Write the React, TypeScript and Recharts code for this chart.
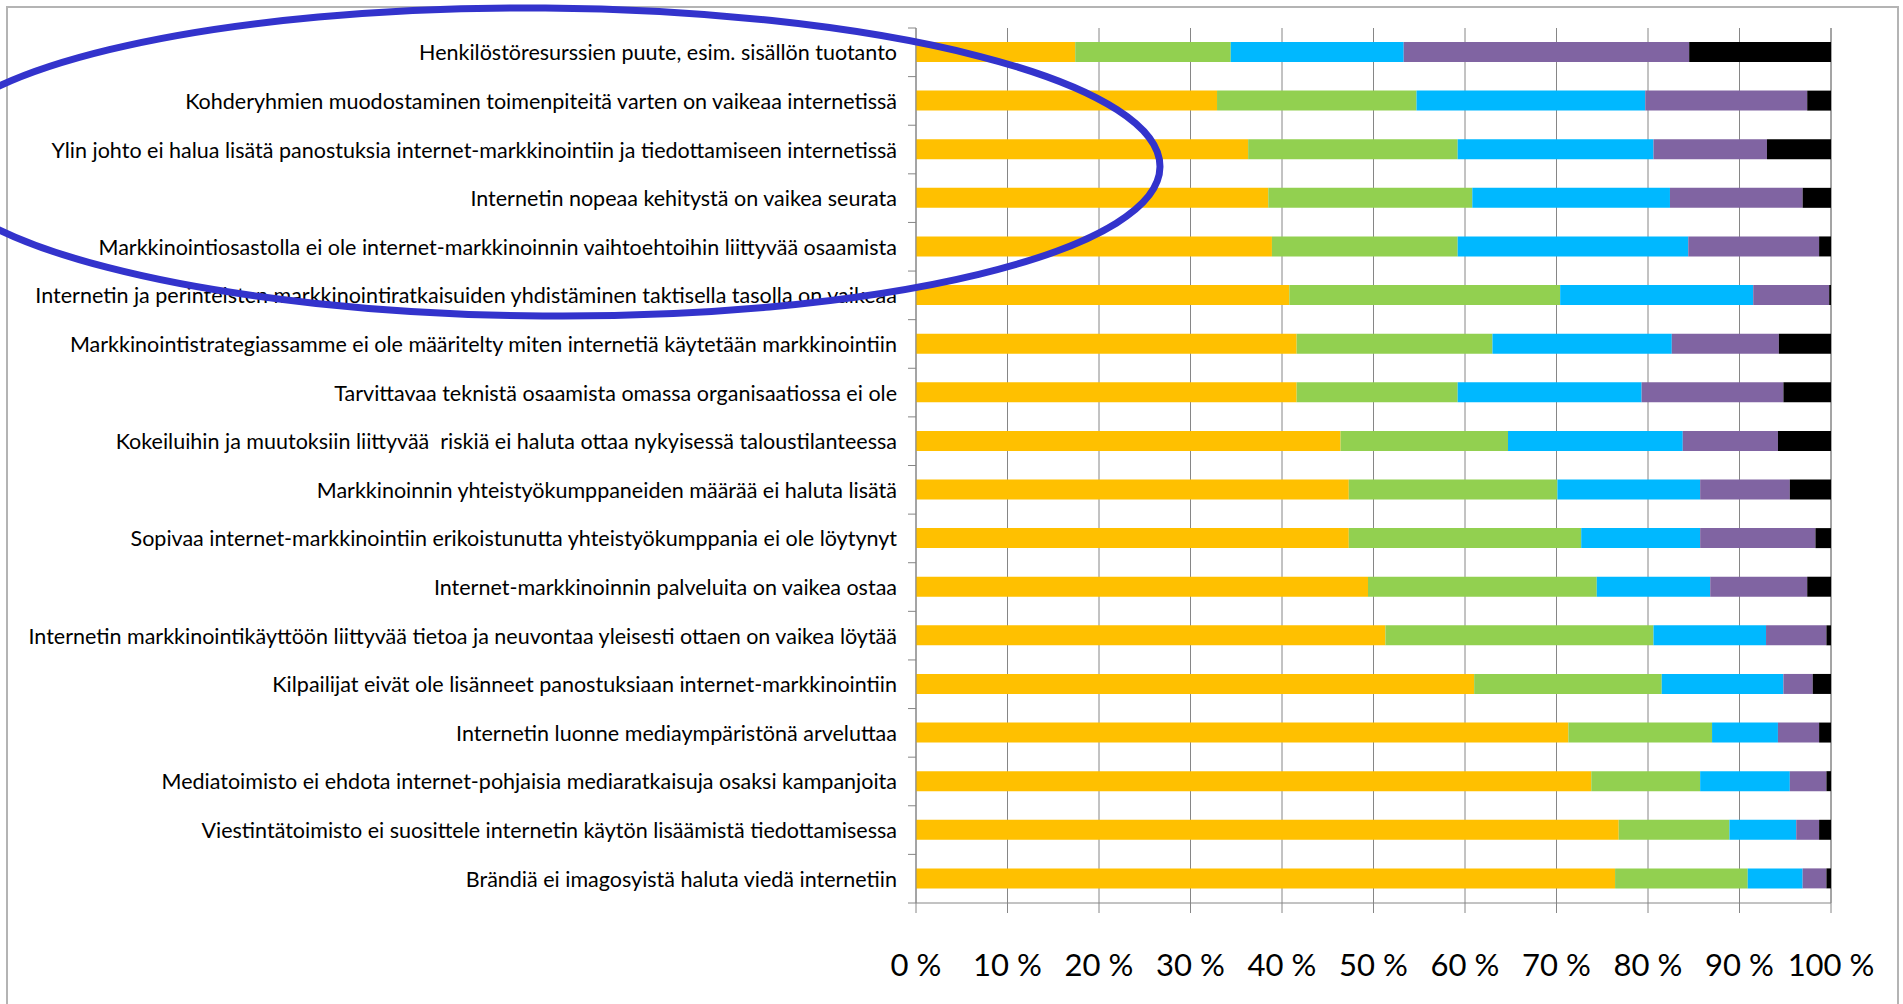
import { Bar, BarChart, CartesianGrid, XAxis, YAxis } from "recharts"

// obstacles to internet marketing, share of answers (%) per option, top to bottom
const categories = [
  "Henkilöstöresurssien puute, esim. sisällön tuotanto",
  "Kohderyhmien muodostaminen toimenpiteitä varten on vaikeaa internetissä",
  "Ylin johto ei halua lisätä panostuksia internet-markkinointiin ja tiedottamiseen internetissä",
  "Internetin nopeaa kehitystä on vaikea seurata",
  "Markkinointiosastolla ei ole internet-markkinoinnin vaihtoehtoihin liittyvää osaamista",
  "Internetin ja perinteisten markkinointiratkaisuiden yhdistäminen taktisella tasolla on vaikeaa",
  "Markkinointistrategiassamme ei ole määritelty miten internetiä käytetään markkinointiin",
  "Tarvittavaa teknistä osaamista omassa organisaatiossa ei ole",
  "Kokeiluihin ja muutoksiin liittyvää  riskiä ei haluta ottaa nykyisessä taloustilanteessa",
  "Markkinoinnin yhteistyökumppaneiden määrää ei haluta lisätä",
  "Sopivaa internet-markkinointiin erikoistunutta yhteistyökumppania ei ole löytynyt",
  "Internet-markkinoinnin palveluita on vaikea ostaa",
  "Internetin markkinointikäyttöön liittyvää tietoa ja neuvontaa yleisesti ottaen on vaikea löytää",
  "Kilpailijat eivät ole lisänneet panostuksiaan internet-markkinointiin",
  "Internetin luonne mediaympäristönä arveluttaa",
  "Mediatoimisto ei ehdota internet-pohjaisia mediaratkaisuja osaksi kampanjoita",
  "Viestintätoimisto ei suosittele internetin käytön lisäämistä tiedottamisessa",
  "Brändiä ei imagosyistä haluta viedä internetiin",
]

const yellow = [17.4, 32.9, 36.3, 38.5, 38.9, 40.8, 41.6, 41.6, 46.4, 47.3, 47.3, 49.4, 51.3, 61.0, 71.3, 73.8, 76.8, 76.4]
const green = [17.0, 21.8, 22.9, 22.3, 20.3, 29.6, 21.4, 17.6, 18.3, 22.8, 25.4, 25.0, 29.3, 20.5, 15.7, 11.9, 12.1, 14.5]
const blue = [18.9, 25.0, 21.4, 21.6, 25.2, 21.1, 19.6, 20.1, 19.1, 15.6, 13.0, 12.4, 12.3, 13.3, 7.2, 9.8, 7.3, 6.0]
const purple = [31.2, 17.7, 12.4, 14.5, 14.3, 8.3, 11.7, 15.5, 10.4, 9.8, 12.6, 10.6, 6.6, 3.2, 4.5, 4.0, 2.5, 2.6]
const black = [15.5, 2.6, 7.0, 3.1, 1.3, 0.2, 5.7, 5.2, 5.8, 4.5, 1.7, 2.6, 0.5, 2.0, 1.3, 0.5, 1.3, 0.5]

const xTicks = [0, 10, 20, 30, 40, 50, 60, 70, 80, 90, 100]

const data = categories.map((name, i) => ({
  name,
  s1: yellow[i],
  s2: green[i],
  s3: blue[i],
  s4: purple[i],
  s5: black[i],
}))

const W = 1903
const H = 1004
const PLOT_LEFT = 916
const PLOT_TOP = 28
const PLOT_BOTTOM = 903
const ROW = (PLOT_BOTTOM - PLOT_TOP) / categories.length
const GREY = "#868686"
const FONT = "Lato, 'Liberation Sans', sans-serif"

function CategoryTick(props: any) {
  const { y, payload, index } = props
  const half = ROW / 2
  return (
    <g>
      {index === 0 && (
        <line x1={PLOT_LEFT - 8} x2={PLOT_LEFT} y1={y - half} y2={y - half} stroke={GREY} />
      )}
      <line x1={PLOT_LEFT - 8} x2={PLOT_LEFT} y1={y + half} y2={y + half} stroke={GREY} />
      <text
        x={PLOT_LEFT - 19}
        y={y}
        textAnchor="end"
        dominantBaseline="central"
        fontFamily={FONT}
        fontSize={21.5}
        fill="#000"
        style={{ whiteSpace: "pre" }}
      >
        {payload.value}
      </text>
    </g>
  )
}

function PercentTick(props: any) {
  const { x, payload } = props
  return (
    <text x={x} y={976} textAnchor="middle" fontFamily={FONT} fontSize={31} fill="#000">
      {payload.value} %
    </text>
  )
}

export default function App() {
  return (
    <div style={{ position: "absolute", left: 0, top: 0, width: W, height: H, background: "#fff", overflow: "hidden" }}>
      <div
        style={{
          position: "absolute",
          left: 6,
          top: 6,
          width: 1893,
          height: 1100,
          border: "2px solid #b4b4b4",
          boxSizing: "border-box",
        }}
      />
      <div style={{ position: "absolute", left: 0, top: 0 }}>
        <BarChart
          width={W}
          height={H}
          data={data}
          layout="vertical"
          barSize={20}
          margin={{ top: PLOT_TOP, right: 72, bottom: 0, left: 0 }}
        >
          <CartesianGrid horizontal={false} stroke={GREY} />
          <XAxis
            type="number"
            domain={[0, 100]}
            ticks={xTicks}
            interval={0}
            height={H - PLOT_BOTTOM}
            stroke={GREY}
            tickSize={10}
            tick={<PercentTick />}
          />
          <YAxis
            type="category"
            dataKey="name"
            width={PLOT_LEFT}
            interval={0}
            stroke={GREY}
            tickLine={false}
            tick={<CategoryTick />}
          />
          <Bar dataKey="s1" stackId="a" fill="#FFC000" isAnimationActive={false} />
          <Bar dataKey="s2" stackId="a" fill="#92D050" isAnimationActive={false} />
          <Bar dataKey="s3" stackId="a" fill="#00B8FF" isAnimationActive={false} />
          <Bar dataKey="s4" stackId="a" fill="#8064A2" isAnimationActive={false} />
          <Bar dataKey="s5" stackId="a" fill="#000000" isAnimationActive={false} />
        </BarChart>
      </div>
      {/* hand-drawn highlight around the top five items */}
      <svg width={W} height={H} style={{ position: "absolute", left: 0, top: 0, pointerEvents: "none" }}>
        <ellipse
          cx={544}
          cy={162}
          rx={616}
          ry={154}
          fill="none"
          stroke="#3333CC"
          strokeWidth={7}
          transform="rotate(0.45 544 162)"
        />
      </svg>
    </div>
  )
}
